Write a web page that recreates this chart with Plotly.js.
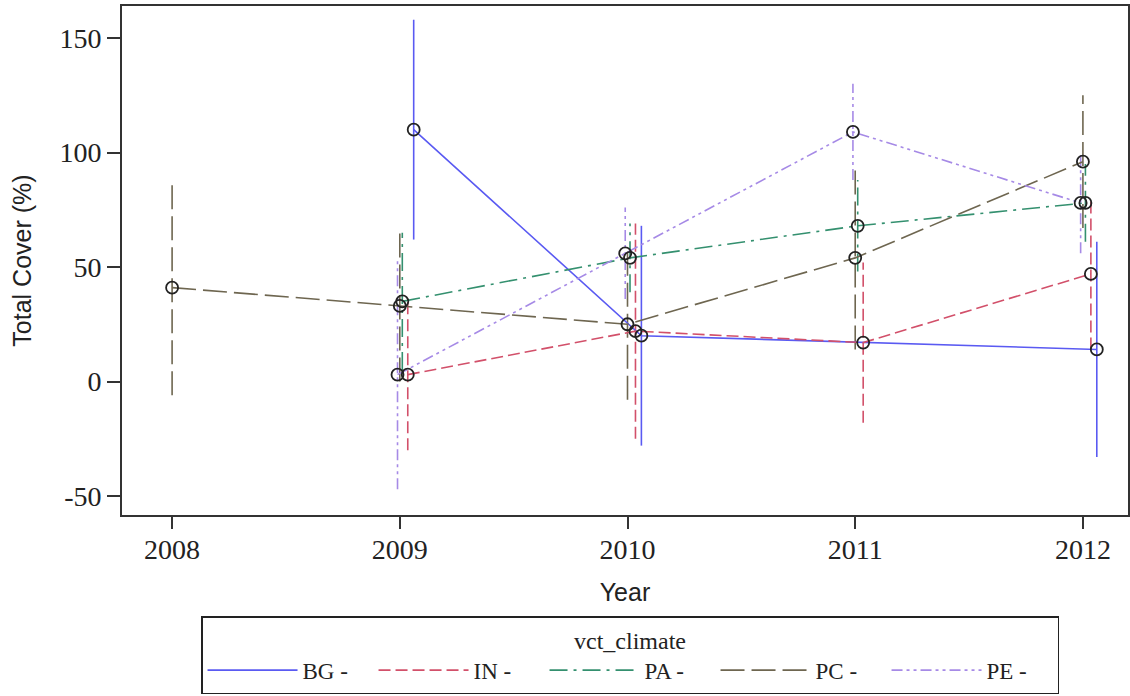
<!DOCTYPE html>
<html>
<head>
<meta charset="utf-8">
<script src="https://cdn.plot.ly/plotly-3.0.1.min.js"></script>
<style>
  html, body { margin: 0; padding: 0; background: #ffffff; }
  #chart { width: 1130px; height: 696px; }
</style>
</head>
<body>
<div id="chart"></div>
<script>
// Mean total cover (%) per year for each vegetation/climate class,
// with the half-width of each error whisker.
const bgYears = [2009, 2010, 2012];
const bgCover = [110, 20, 14];
const bgErr   = [48, 48, 47];

const inYears = [2009, 2010, 2011, 2012];
const inCover = [3, 22, 17, 47];
const inErr   = [33, 47, 35, 33];

const paYears = [2009, 2010, 2011, 2012];
const paCover = [35, 54, 68, 78];
const paErr   = [30, 15, 20, 17];

const pcYears = [2008, 2009, 2010, 2011, 2012];
const pcCover = [41, 33, 25, 54, 96];
const pcErr   = [47, 33, 33, 40, 29];

const peYears = [2009, 2010, 2011, 2012];
const peCover = [3, 56, 109, 78];
const peErr   = [50, 20, 21, 22];

const classLabels = ['BG -', 'IN -', 'PA -', 'PC -', 'PE -'];
const xTicks = [2008, 2009, 2010, 2011, 2012];
const yTicks = [-50, 0, 50, 100, 150];

// Per-class appearance; "shift" dodges the classes sideways around each year.
const classStyles = [
  { color: '#5a5af2', dash: 'solid',                    shift: 0.061 },
  { color: '#d2506a', dash: '12px,5px',                 shift: 0.035 },
  { color: '#34906f', dash: '18px,6px,3px,6px',         shift: 0.011 },
  { color: '#6e6650', dash: '24px,7px',                 shift: 0 },
  { color: '#a68ae6', dash: '11px,4px,3px,4px,3px,4px', shift: -0.010 }
];

const series = [
  { x: bgYears, y: bgCover, e: bgErr },
  { x: inYears, y: inCover, e: inErr },
  { x: paYears, y: paCover, e: paErr },
  { x: pcYears, y: pcCover, e: pcErr },
  { x: peYears, y: peCover, e: peErr }
];

const whiskers = [];
const lines = [];
const markers = [];

series.forEach((s, i) => {
  const st = classStyles[i];
  const xs = s.x.map(v => v + st.shift);

  // vertical whiskers drawn in the class's own dash style
  const wx = [], wy = [];
  xs.forEach((x, j) => {
    wx.push(x, x, null);
    wy.push(s.y[j] - s.e[j], s.y[j] + s.e[j], null);
  });
  whiskers.push({
    x: wx, y: wy, type: 'scatter', mode: 'lines',
    line: { color: st.color, width: 1.6, dash: st.dash },
    showlegend: false, hoverinfo: 'skip'
  });

  lines.push({
    x: xs, y: s.y, type: 'scatter', mode: 'lines', name: classLabels[i],
    line: { color: st.color, width: 1.6, dash: st.dash }
  });

  markers.push({
    x: xs, y: s.y, type: 'scatter', mode: 'markers', showlegend: false,
    marker: { symbol: 'circle-open', size: 12, color: '#222222', line: { width: 1.8, color: '#222222' } },
    hovertemplate: classLabels[i] + ' %{y}<extra></extra>'
  });
});

const axisText = '#222222';
const serif = 'Liberation Serif, Times New Roman, serif';
const sans = 'Liberation Sans, Arial, sans-serif';

const layout = {
  width: 1130,
  height: 696,
  margin: { l: 122, r: 2, t: 6, b: 181 },
  paper_bgcolor: '#ffffff',
  plot_bgcolor: '#ffffff',
  xaxis: {
    range: [2007.78, 2012.198],
    tickvals: xTicks,
    ticktext: xTicks.map(String),
    ticks: 'outside', ticklen: 12, tickwidth: 1.5, tickcolor: '#333333',
    ticklabelstandoff: -3,
    showline: true, mirror: true, linecolor: '#333333', linewidth: 1.6,
    showgrid: false, zeroline: false,
    tickfont: { family: serif, size: 28, color: axisText },
    title: { text: 'Year', font: { family: sans, size: 25, color: axisText }, standoff: 19 }
  },
  yaxis: {
    range: [-58.3, 164],
    tickvals: yTicks,
    ticktext: yTicks.map(String),
    ticks: 'outside', ticklen: 13, tickwidth: 1.5, tickcolor: '#333333',
    showline: true, mirror: true, linecolor: '#333333', linewidth: 1.6,
    showgrid: false, zeroline: false,
    tickfont: { family: serif, size: 28, color: axisText },
    title: { text: 'Total Cover (%)', font: { family: sans, size: 25, color: axisText }, standoff: 21 }
  },
  showlegend: true,
  legend: {
    orientation: 'h',
    x: 0.505, xanchor: 'center',
    y: -0.3517, yanchor: 'bottom',
    bgcolor: '#ffffff',
    bordercolor: '#222222', borderwidth: 1.5,
    font: { family: serif, size: 23, color: axisText },
    title: { text: 'vct_climate', side: 'top center', font: { family: serif, size: 24, color: axisText } },
    itemwidth: 90,
    entrywidth: 66,
    entrywidthmode: 'pixels',
    traceorder: 'normal'
  }
};

Plotly.newPlot('chart', [...whiskers, ...lines, ...markers], layout, { displayModeBar: false });
</script>
</body>
</html>
